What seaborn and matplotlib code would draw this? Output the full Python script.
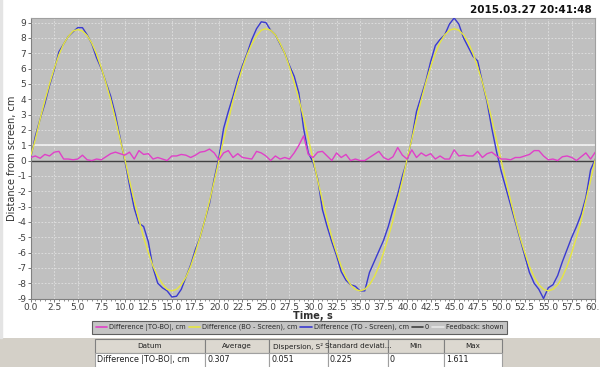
import numpy as np
import pandas as pd
import matplotlib
matplotlib.use("Agg")
import matplotlib.pyplot as plt
import seaborn as sns
from matplotlib.lines import Line2D
from matplotlib.patches import Rectangle
from matplotlib.ticker import MultipleLocator, FormatStrFormatter

# --- data (0.5 s sampling) ---
time_s = np.arange(0, 60.01, 0.5)

diff_to_bo = [
    0.2, 0.3, 0.15, 0.4, 0.3, 0.55, 0.6, 0.1, 0.1, 0.05,
    0.1, 0.35, 0.05, 0.0, 0.1, 0.05, 0.25, 0.45, 0.55, 0.45,
    0.35, 0.55, 0.1, 0.65, 0.4,
    0.45, 0.1, 0.2, 0.1, 0.0, 0.3, 0.3, 0.4, 0.35, 0.2,
    0.35, 0.55, 0.6, 0.75, 0.5, 0.05, 0.5, 0.65, 0.2, 0.45,
    0.2, 0.15, 0.1,
    0.6, 0.5, 0.3, 0.0, 0.3, 0.1, 0.2, 0.1, 0.5, 1.0,
    1.61, 0.4, 0.2, 0.55, 0.6, 0.3, 0.0, 0.5, 0.2, 0.4,
    0.0, 0.1, 0.0, 0.0, 0.2,
    0.4, 0.6, 0.2, 0.05, 0.25, 0.85, 0.35, 0.1, 0.7, 0.2,
    0.5, 0.3, 0.45, 0.1, 0.3, 0.1, 0.1, 0.7, 0.3, 0.35,
    0.3, 0.3, 0.6,
    0.2, 0.45, 0.55, 0.3, 0.1, 0.1, 0.05, 0.2, 0.2, 0.3,
    0.4, 0.65, 0.65, 0.3, 0.05, 0.1, 0.0, 0.25, 0.3, 0.2,
    0.0, 0.25, 0.5, 0.1, 0.55,
]

diff_bo_screen = [
    0.3, 1.4, 2.7, 3.9, 5.0, 6.0, 6.9, 7.6, 8.1, 8.45,
    8.55, 8.45, 8.15, 7.65, 6.95, 6.05, 5.05, 3.95, 2.7, 1.4,
    0.1, -1.3, -2.6, -3.85, -5.0, -6.0, -6.9, -7.55, -8.05, -8.4,
    -8.5, -8.4, -8.1, -7.6, -6.9, -6.0, -5.0, -3.9, -2.65, -1.35,
    0.0, 1.35, 2.6, 3.9, 5.0, 6.05, 6.9, 7.6, 8.15, 8.5,
    8.6, 8.5, 8.2, 7.65, 7.0, 6.1, 5.1, 4.0, 2.8, 1.45,
    0.1, -1.3, -2.6, -3.85, -5.0, -6.0, -6.9, -7.6, -8.1, -8.4,
    -8.5, -8.4, -8.1, -7.6, -6.9, -6.0, -5.0, -3.9, -2.6, -1.3,
    0.1, 1.4, 2.7, 3.95, 5.1, 6.1, 7.0, 7.7, 8.2, 8.5,
    8.6, 8.5, 8.2, 7.7, 7.0, 6.1, 5.1, 3.95, 2.7, 1.35,
    0.0, -1.3, -2.6, -3.85, -5.0, -6.0, -6.9, -7.6, -8.1, -8.4,
    -8.5, -8.4, -8.1, -7.6, -6.9, -6.0, -5.0, -3.9, -2.6, -1.3,
    0.1,
]

diff_to_screen = [
    0.2, 1.6, 2.7, 3.7, 4.9, 5.9, 7.1, 7.6, 8.1, 8.4,
    8.67, 8.67, 8.2, 7.6, 6.7, 6.0, 5.1, 4.2, 3.0, 1.5,
    0.0, -1.6, -3.1, -4.1, -4.3, -5.3, -7.0, -8.0, -8.3, -8.5,
    -8.9, -8.85, -8.4, -7.6, -6.8, -5.8, -5.0, -3.9, -2.8, -1.2,
    0.2, 2.1, 3.2, 4.2, 5.3, 6.2, 7.0, 7.9, 8.6, 9.05,
    9.0, 8.5, 8.2, 7.6, 7.0, 6.2, 5.5, 4.4, 2.1, 0.5,
    -0.1, -1.2, -3.2, -4.3, -5.3, -6.2, -7.25, -7.8, -8.1, -8.2,
    -8.5, -8.5, -7.3, -6.6, -5.9, -5.2, -4.3, -3.2, -2.2, -1.0,
    0.0, 1.45, 3.2, 4.2, 5.2, 6.45, 7.5, 7.9, 8.2, 8.9,
    9.3, 8.9, 8.0, 7.4, 6.8, 6.5, 5.1, 3.8, 2.1, 0.6,
    -0.7, -1.8, -2.9, -4.0, -5.1, -6.2, -7.3, -8.0, -8.4, -9.0,
    -8.3, -8.1, -7.5, -6.6, -5.8, -5.0, -4.3, -3.5, -2.4, -0.6,
    0.1,
]

series_names = ["Difference |TO-BO|, cm", "Difference (BO - Screen), cm",
                "Difference (TO - Screen), cm"]
series_colors = ["#e040c8", "#e6e640", "#3a3ad0"]
zero_label = "0"
feedback_label = "Feedback: shown"
feedback_level = 1.0

table_header = ["Datum", "Average", "Dispersion, S²", "Standard deviati...", "Min", "Max"]
table_row = ["Difference |TO-BO|, cm", "0.307", "0.051", "0.225", "0", "1.611"]
timestamp = "2015.03.27 20:41:48"

df = pd.DataFrame({
    "time": np.tile(time_s, 3),
    "value": np.concatenate([diff_to_bo, diff_bo_screen, diff_to_screen]),
    "series": np.repeat(series_names, len(time_s)),
})

sns.set_style("ticks")
plt.rcParams["font.family"] = ["DejaVu Sans"]
plt.rcParams["axes.unicode_minus"] = False

W, H = 600, 367
fig = plt.figure(figsize=(W / 100, H / 100), dpi=100)
fig.patch.set_facecolor("white")

# main plot
ax = fig.add_axes([30.7 / W, 1 - 299 / H, (595.3 - 30.7) / W, (299 - 18) / H])
ax.set_facecolor("#c0c0c0")
ax.axhline(0, color="#404040", lw=1.0, zorder=2)
ax.axhline(feedback_level, color="#f2f2f2", lw=1.2, zorder=2)

# draw order: blue, yellow, pink
for name in [series_names[2], series_names[1], series_names[0]]:
    sns.lineplot(data=df[df["series"] == name], x="time", y="value",
                 color=series_colors[series_names.index(name)], lw=1.0,
                 estimator=None, ax=ax, zorder=3)

ax.set_xlim(0, 60)
ax.set_ylim(-9.03, 9.3)
ax.xaxis.set_major_locator(MultipleLocator(2.5))
ax.xaxis.set_minor_locator(MultipleLocator(0.5))
ax.yaxis.set_major_locator(MultipleLocator(1))
ax.xaxis.set_major_formatter(FormatStrFormatter("%.1f"))
ax.grid(True, which="major", color="#e2e2e2", linestyle=(0, (2, 2)), lw=0.6)
ax.tick_params(axis="both", which="major", labelsize=6.5, labelcolor="#404040",
               length=2, width=0.6, color="#606060", pad=1.2)
ax.tick_params(axis="x", which="minor", length=1.3, width=0.5, color="#606060")
for side, sp in ax.spines.items():
    sp.set_color("#808080" if side in ("left", "bottom") else "#a0a0a0")
    sp.set_linewidth(0.8)

ax.set_xlabel("Time, s", fontsize=7, fontweight="bold", color="#303030")
ax.xaxis.set_label_coords(0.5, -0.043)
ax.set_ylabel("Distance from screen, cm", fontsize=7, color="#303030")
ax.yaxis.set_label_coords(-0.025, 0.5)

# legend
handles = [Line2D([], [], color=c, lw=1.2) for c in series_colors]
handles += [Line2D([], [], color="#404040", lw=1.2),
            Line2D([], [], color="#e8e8e8", lw=1.2)]
labels = series_names + [zero_label, feedback_label]
leg = fig.legend(handles, labels, loc="center", bbox_to_anchor=(299.5 / W, 1 - 327.5 / H),
                 ncol=5, fontsize=4.8, frameon=True, fancybox=False, facecolor="#c4c4c4",
                 edgecolor="#606060", handlelength=1.7, handletextpad=0.3,
                 columnspacing=0.45, borderpad=0.5)
leg.get_frame().set_linewidth(0.8)
leg.get_frame().set_alpha(1)

# left light border strip
fig.patches.append(Rectangle((0, 29 / H), 2 / W, 1, transform=fig.transFigure,
                             color="#e4e4e4", zorder=0))

# statistics table at the bottom
tab = fig.add_axes([0, 0, 1, 29 / H])
tab.set_facecolor("#d4d0c8")
tab.set_xlim(0, W)
tab.set_ylim(29, 0)
tab.set_xticks([])
tab.set_yticks([])
for sp in tab.spines.values():
    sp.set_visible(False)
col_edges = [95, 205, 269, 328, 388, 444, 502]
for i, (h, v) in enumerate(zip(table_header, table_row)):
    x0, x1 = col_edges[i], col_edges[i + 1]
    tab.add_patch(Rectangle((x0, 1), x1 - x0, 14, facecolor="#dcd8d0",
                            edgecolor="#808080", lw=0.8))
    tab.add_patch(Rectangle((x0, 15), x1 - x0, 15, facecolor="white",
                            edgecolor="#a0a0a0", lw=0.8))
    tab.text((x0 + x1) / 2, 8, h, ha="center", va="center", fontsize=5.2, color="#202020")
    tab.text(x0 + 2, 22, v, ha="left", va="center", fontsize=5.8, color="#202020")

fig.text(592 / W, 1 - 10 / H, timestamp, ha="right", va="center",
         fontsize=7.5, fontweight="bold", color="#101010")

fig.savefig("out.png", dpi=100)
